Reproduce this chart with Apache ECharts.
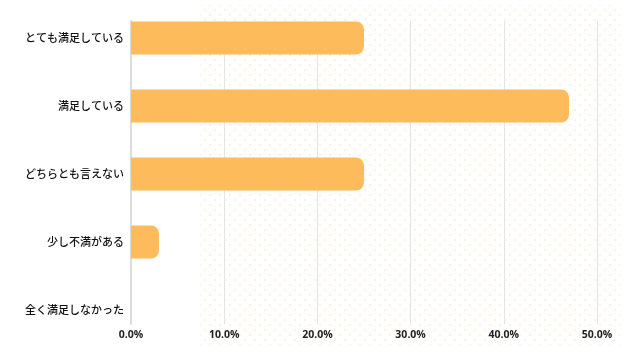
<!DOCTYPE html>
<html>
<head>
<meta charset="utf-8">
<script src="https://cdn.jsdelivr.net/npm/echarts@6/dist/echarts.min.js"></script>
<style>
html,body{margin:0;padding:0;background:#fff;}
#wrap{position:relative;width:640px;height:360px;}
#dots{position:absolute;left:200px;top:5px;width:420px;height:340px;
background-image:radial-gradient(circle,#fdf2e2 1.1px,rgba(255,255,255,0) 1.6px),radial-gradient(circle,#fdf2e2 1.1px,rgba(255,255,255,0) 1.6px);
background-size:10px 10px,10px 10px;background-position:0 0,5px 5px;}
#chart{position:absolute;left:0;top:0;width:640px;height:360px;}
</style>
</head>
<body>
<div id="wrap"><div id="dots"></div><div id="chart"></div></div>
<script>
const categories = ['とても満足している','満足している','どちらとも言えない','少し不満がある','全く満足しなかった'];
const values = [25, 47, 25, 3, 0];
const ticks = [0, 10, 20, 30, 40, 50];

const chart = echarts.init(document.getElementById('chart'), null, {renderer:'canvas'});
chart.setOption({
  animation:false,
  grid:[
    {left:131, right:43, top:4, bottom:16},
    {left:131, right:43, top:21, bottom:36}
  ],
  xAxis:[
    {gridIndex:0, type:'value', min:0, max:50, interval:10, show:false},
    {gridIndex:1, type:'value', min:ticks[0], max:ticks[ticks.length-1], interval:10,
     axisLine:{show:false}, axisTick:{show:false},
     splitLine:{show:true, lineStyle:{color:'#e4e4e4', width:1}},
     axisLabel:{margin:6, color:'#222', fontSize:10.5, fontWeight:'bold', fontFamily:'Open Sans',
       formatter:v=>v.toFixed(1)+'%'}}
  ],
  yAxis:[
    {gridIndex:0, type:'category', data:categories, inverse:true,
     axisLine:{show:false}, axisTick:{show:false},
     axisLabel:{margin:7, color:'#111', fontSize:11, fontWeight:500, fontFamily:'Noto Sans CJK JP'}},
    {gridIndex:1, type:'value', min:0, max:1,
     axisLine:{show:true, lineStyle:{color:'#dcdcdc', width:2}},
     axisTick:{show:false}, axisLabel:{show:false}, splitLine:{show:false}}
  ],
  series:[{
    type:'bar', xAxisIndex:0, yAxisIndex:0, data:values, barWidth:33,
    itemStyle:{color:'#FDBB5B', borderRadius:[0,8,8,0]}
  }]
});
</script>
</body>
</html>
